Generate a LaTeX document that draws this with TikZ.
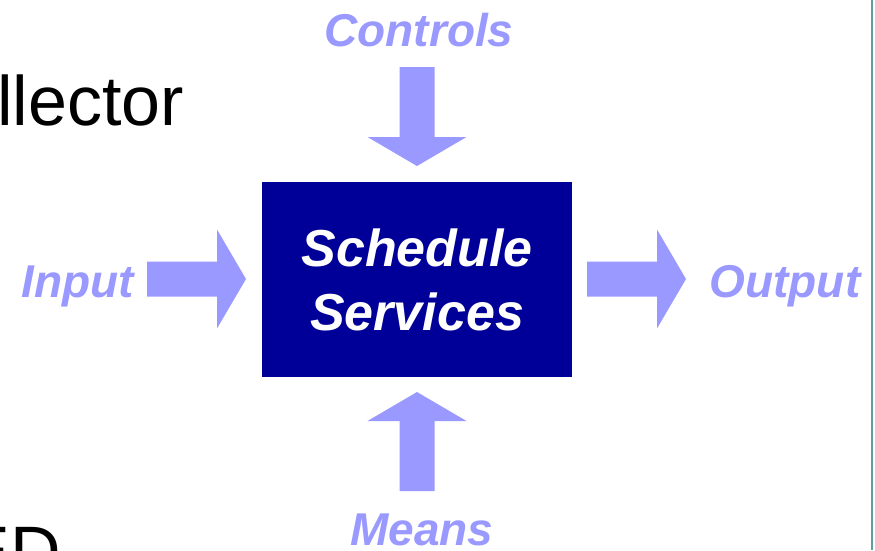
\documentclass[tikz,border=0pt]{standalone}
\usepackage{fontspec}
\setmainfont{Liberation Sans}
\usetikzlibrary{positioning}
\definecolor{ProcessBlue}{HTML}{000099}
\definecolor{ArrowLilac}{HTML}{9999FF}
\definecolor{FrameTeal}{HTML}{5F9EA0}
\tikzset{
  flowlabel/.style={text=ArrowLilac, inner sep=0pt, anchor=base, font=\fontsize{46}{55}\selectfont\bfseries\itshape},
  slidetext/.style={inner sep=0pt, anchor=base east, font=\fontsize{70}{84}\selectfont},
  blockarrow/.pic={\fill[ArrowLilac] (0,-17.5) -- (70,-17.5) -- (70,-49.5) -- (99,0) -- (70,49.5) -- (70,17.5) -- (0,17.5) -- cycle;},
}

\begin{document}
\begin{tikzpicture}[x=1pt, y=-1pt]
                \clip (0,0) rectangle (875,550);
                \fill[white] (0,0) rectangle (875,550);
                
                \node[slidetext] (slidetop) at (184,125) {llector};
                \node[slidetext] (slidebot) at (61,575) {ED};
                \draw[FrameTeal, line width=2.5pt] (872,0) -- (872,550);
                
                \node[fill=ProcessBlue, text=white, minimum width=310pt, minimum height=195pt, align=center, font=\fontsize{52}{64}\selectfont\bfseries\itshape] (process) at (417,279.5) {Schedule\\Services};
                
                \pic at (147,279) {blockarrow};
                \pic at (587,279) {blockarrow};
                \pic[rotate=-90] at (417,67) {blockarrow};
                \pic[rotate=90] at (417,491) {blockarrow};
                
                \node[flowlabel] (controls) at (419,46) {Controls};
                \node[flowlabel] (means) at (422,545) {Means};
                \node[flowlabel] (input) at (77.5,297) {Input};
                \node[flowlabel] (output) at (785,297) {Output};
            \end{tikzpicture}
\end{document}
